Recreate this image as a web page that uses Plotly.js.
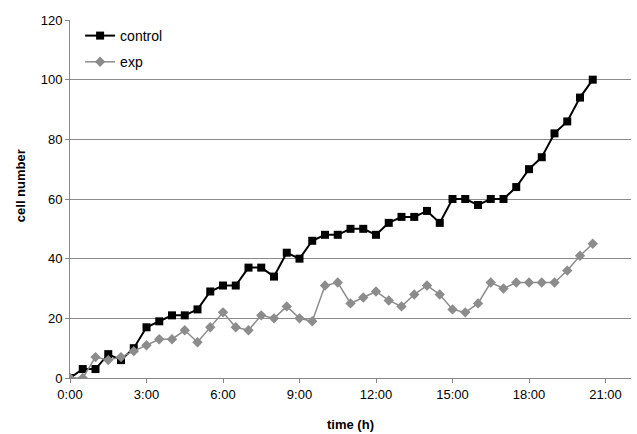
<!DOCTYPE html>
<html>
<head>
<meta charset="utf-8">
<script src="https://cdn.plot.ly/plotly-3.0.1.min.js"></script>
<style>html,body{margin:0;padding:0;background:#fff;}#chart{width:637px;height:434px;}</style>
</head>
<body>
<div id="chart"></div>
<script>
var timeHours = [0,0.5,1,1.5,2,2.5,3,3.5,4,4.5,5,5.5,6,6.5,7,7.5,8,8.5,9,9.5,10,10.5,11,11.5,12,12.5,13,13.5,14,14.5,15,15.5,16,16.5,17,17.5,18,18.5,19,19.5,20,20.5];
var control = [0,3,3,8,6,10,17,19,21,21,23,29,31,31,37,37,34,42,40,46,48,48,50,50,48,52,54,54,56,52,60,60,58,60,60,64,70,74,82,86,94,100];
var exp = [0,0,7,6,7,9,11,13,13,16,12,17,22,17,16,21,20,24,20,19,31,32,25,27,29,26,24,28,31,28,23,22,25,32,30,32,32,32,32,36,41,45];
var xTickVals = [0,3,6,9,12,15,18,21];
var xTickText = ["0:00","3:00","6:00","9:00","12:00","15:00","18:00","21:00"];
var yTickVals = [0,20,40,60,80,100,120];
var yTitle = "cell number";
var xTitle = "time (h)";

var traces = [
  {x: timeHours, y: control, name: "control", legendgroup: "a", type: "scatter", mode: "lines+markers",
   line: {color: "#000000", width: 2}, marker: {symbol: "square", size: 8, color: "#000000"}},
  {x: timeHours, y: exp, name: "exp", legendgroup: "b", type: "scatter", mode: "lines+markers",
   line: {color: "#8c8c8c", width: 1.5}, marker: {symbol: "diamond", size: 8, color: "#8c8c8c"}}
];

var layout = {
  width: 637, height: 434,
  margin: {l: 70, r: 6, t: 20, b: 56},
  paper_bgcolor: "#ffffff", plot_bgcolor: "#ffffff",
  font: {family: "Liberation Sans, Arial, sans-serif", size: 13, color: "#000"},
  showlegend: true,
  legend: {x: 0.018, y: 1.0, xanchor: "left", yanchor: "top", bgcolor: "rgba(0,0,0,0)",
           font: {size: 14, color: "#000"}, tracegroupgap: 5, itemwidth: 30},
  xaxis: {
    range: [0, 22], tickvals: xTickVals, ticktext: xTickText,
    showgrid: false, zeroline: false, showline: true, linecolor: "#888888", linewidth: 1,
    ticks: "outside", ticklen: 4, tickcolor: "#888888",
    tickfont: {size: 13, color: "#000"},
    title: {text: "<b>" + xTitle + "</b>", font: {size: 13, color: "#000"}, standoff: 19}
  },
  yaxis: {
    range: [0, 120], tickvals: yTickVals,
    showgrid: true, gridcolor: "#8a8a8a", gridwidth: 1,
    zeroline: false, showline: true, linecolor: "#888888", linewidth: 1,
    ticks: "outside", ticklen: 4, tickcolor: "#888888",
    tickfont: {size: 13, color: "#000"}
  },
  annotations: [
    {text: "<b>" + yTitle + "</b>", xref: "paper", yref: "paper", x: -0.089, y: 0.536,
     xanchor: "center", yanchor: "middle", textangle: -90, showarrow: false,
     font: {size: 13, color: "#000"}}
  ]
};

Plotly.newPlot("chart", traces, layout, {displayModeBar: false, staticPlot: true});
</script>
</body>
</html>
